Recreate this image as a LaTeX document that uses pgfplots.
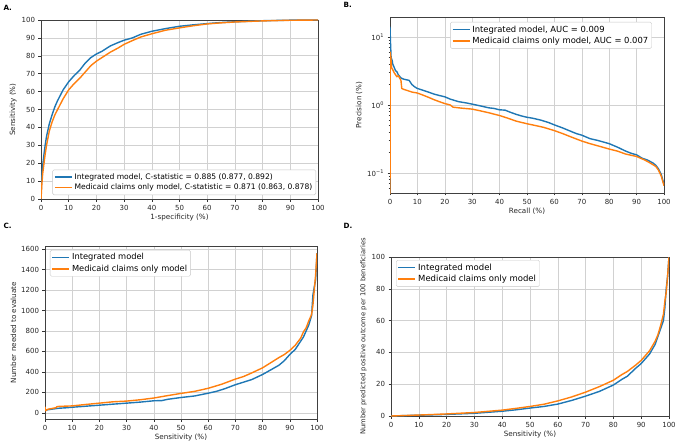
\documentclass[border=0pt]{standalone}
\usepackage{fontspec}
\setmainfont{DejaVu Sans}
\usepackage{pgfplots}
\pgfplotsset{compat=1.18}
\definecolor{mblue}{RGB}{31,119,180}
\definecolor{morange}{RGB}{255,127,14}
\pgfplotsset{
  panel/.style={
    scale only axis,
    grid=major,
    major grid style={black!18, line width=0.6pt},
    axis line style={black!75, line width=0.6pt},
    tick style={black!80, line width=0.5pt},
    tick align=outside, tick pos=left,
    major tick length=2.5pt,
    ticklabel style={font=\fontsize{7}{8}\selectfont, text=black!85},
    label style={font=\fontsize{7.2}{8}\selectfont, text=black!85},
    xlabel style={yshift=3pt},
    ylabel style={yshift=-2pt},
    legend style={draw=black!22, rounded corners=1.5pt,
      fill=white, inner sep=1.5pt, row sep=-0.5pt},
    legend cell align=left,
    /pgf/number format/assume math mode=true,
    /pgf/number format/1000 sep={},
  },
  mbl/.style={color=mblue, line width=1.4pt, line join=round},
  mor/.style={color=morange, line width=1.4pt, line join=round},
}
\begin{document}
\begin{tikzpicture}
\path[use as bounding box] (0pt,0pt) rectangle (677pt,-441pt);
\tikzset{plab/.style={font=\bfseries\fontsize{7.2}{8}\selectfont, anchor=west}}
\node[plab] at (0pt,-8pt) {A.};
\node[plab] at (340pt,-5pt) {B.};
\node[plab] at (0pt,-226pt) {C.};
\node[plab] at (340pt,-226pt) {D.};

% Panel A
\begin{axis}[panel, at={(41pt,-199pt)}, anchor=south west, width=277pt, height=179pt,
  xmin=0, xmax=100, ymin=0, ymax=100, xtick distance=10, ytick distance=10,
  xlabel={1-specificity (\%)}, ylabel={Sensitivity (\%)},
  legend style={at={(0.993,0.022)}, anchor=south east, font=\fontsize{7.6}{8.6}\selectfont}]
\addplot[mbl] coordinates {(0,0) (0.2,10) (0.5,17) (1,24) (1.5,30) (2,35) (3,42) (4,47) (5,51.5) (6,55) (7,58) (8,61) (10,65.5) (12,69) (14,72) (16,76) (18,79) (20,81) (22,82.5) (25,85.5) (28,87.5) (30,88.7) (33,90) (36,92) (40,93.7) (45,95.2) (50,96.5) (55,97.3) (60,98) (65,98.6) (70,99) (75,99.3) (80,99.6) (90,99.9) (100,100)};
\addlegendentry{Integrated model, C-statistic = 0.885 (0.877, 0.892)}
\addplot[mor] coordinates {(0,0) (0.3,8) (0.6,14) (1,19) (1.5,25) (2,30) (3,38) (4,43) (5,47) (6,50) (7,53) (8,56) (10,61) (12,64.5) (14,67.5) (16,71) (18,74.5) (20,77) (22,79) (25,82) (28,84.5) (30,86.4) (33,88.5) (36,90.5) (40,92.3) (45,94.3) (50,95.6) (55,96.8) (60,97.8) (65,98.4) (70,98.9) (75,99.2) (80,99.5) (90,99.85) (100,100)};
\addlegendentry{Medicaid claims only model, C-statistic = 0.871 (0.863, 0.878)}
\end{axis}

% Panel B
\begin{axis}[panel, at={(390pt,-193pt)}, anchor=south west, width=274pt, height=176pt,
  ymode=log, xmin=0, xmax=100, ymin=0.0508, ymax=19.7, xtick distance=10,
  ytick={0.1,1,10}, yticklabels={10\textsuperscript{−1},10\textsuperscript{0},10\textsuperscript{1}},
  minor ytick={0.06,0.07,0.08,0.09,0.2,0.3,0.4,0.5,0.6,0.7,0.8,0.9,2,3,4,5,6,7,8,9},
  minor tick length=1.5pt,
  xlabel={Recall (\%)}, ylabel={Precision (\%)},
  legend style={at={(0.956,0.972)}, anchor=north east, font=\fontsize{8.4}{10.2}\selectfont}]
\addplot[mbl] coordinates {(0,0.01) (0,14) (0.2,8) (0.4,5) (0.8,4.5) (1,4) (1.5,3.6) (2,3.2) (2.5,3.1) (3,2.8) (4,2.5) (5,2.4) (6,2.35) (7,2.3) (8,2.0) (9,1.85) (10,1.75) (12,1.65) (14,1.55) (16,1.45) (18,1.38) (20,1.32) (22,1.22) (25,1.12) (28,1.07) (30,1.03) (33,0.97) (36,0.91) (38,0.89) (40,0.85) (42,0.84) (44,0.78) (46,0.73) (48,0.69) (50,0.66) (52,0.64) (55,0.6) (58,0.55) (60,0.51) (63,0.46) (66,0.41) (68,0.38) (70,0.36) (73,0.32) (76,0.3) (80,0.27) (83,0.24) (86,0.21) (88,0.195) (90,0.185) (92,0.165) (94,0.155) (96,0.14) (97,0.13) (98,0.115) (99,0.095) (99.5,0.08) (100,0.068)};
\addlegendentry{Integrated model, AUC = 0.009}
\addplot[mor] coordinates {(0,0.01) (0.05,6) (0.3,5) (0.6,3.5) (1,3.3) (1.5,3.0) (2,2.8) (2.5,2.6) (3,2.7) (3.5,2.5) (4,2.3) (4.3,1.75) (5,1.7) (6,1.65) (8,1.55) (10,1.5) (12,1.4) (14,1.3) (16,1.2) (18,1.12) (20,1.05) (22,1.0) (23,0.93) (26,0.9) (30,0.87) (33,0.82) (36,0.77) (40,0.7) (43,0.64) (46,0.58) (50,0.53) (53,0.5) (56,0.47) (60,0.42) (63,0.38) (66,0.34) (70,0.295) (73,0.27) (76,0.25) (80,0.225) (83,0.21) (86,0.19) (90,0.175) (93,0.155) (95,0.14) (97,0.125) (98,0.11) (99,0.09) (100,0.065)};
\addlegendentry{Medicaid claims only model, AUC = 0.007}
\end{axis}

% Panel C
\begin{axis}[panel, at={(45pt,-419pt)}, anchor=south west, width=272pt, height=173pt,
  xmin=0, xmax=100, ymin=-60, ymax=1630, xtick distance=10, ytick distance=200,
  xlabel={Sensitivity (\%)}, ylabel={Number needed to evaluate},
  legend style={at={(0.018,0.977)}, anchor=north west, font=\fontsize{8.3}{10.5}\selectfont}]
\addplot[mbl] coordinates {(0,25) (1,30) (3,38) (5,45) (8,50) (10,55) (15,65) (20,75) (25,85) (30,95) (35,105) (40,118) (43,120) (45,132) (50,150) (55,165) (60,192) (63,210) (66,235) (70,275) (73,300) (76,325) (80,375) (83,420) (86,465) (88,510) (90,570) (92,620) (94,700) (95,740) (96,800) (97,860) (98,950) (98.5,1150) (99,1230) (99.5,1300) (100,1560)};
\addlegendentry{Integrated model}
\addplot[mor] coordinates {(0,60) (0.2,20) (1,35) (3,45) (4,50) (4.5,62) (7,65) (10,68) (15,82) (20,95) (25,108) (30,115) (35,128) (40,145) (45,168) (50,190) (55,210) (60,240) (65,280) (70,330) (73,355) (76,390) (80,440) (83,490) (86,540) (88,570) (90,610) (92,660) (94,730) (95,790) (96,830) (97,900) (98,960) (98.5,1050) (99,1200) (99.5,1350) (100,1560)};
\addlegendentry{Medicaid claims only model}
\end{axis}

% Panel D
\begin{axis}[panel, at={(391pt,-416pt)}, anchor=south west, width=278pt, height=159pt,
  xmin=0, xmax=100, ymin=0, ymax=100, xtick distance=10, ytick distance=20,
  xlabel={Sensitivity (\%)}, ylabel={Number predicted positive outcome per 100 beneficiaries},
  ylabel style={font=\fontsize{6.8}{8}\selectfont},
  legend style={at={(0.018,0.981)}, anchor=north west, font=\fontsize{8.5}{10}\selectfont}]
\addplot[mbl] coordinates {(0,0) (10,0.5) (20,1) (30,1.7) (40,3) (45,3.9) (50,5) (55,6) (60,7.5) (65,9.8) (70,12.5) (75,15.5) (80,19.5) (83,23) (85,25) (88,30) (90,33) (92,37) (93,39) (95,45) (96,50) (97,55) (98,60) (98.5,68) (99,80) (99.5,88) (100,100)};
\addlegendentry{Integrated model}
\addplot[mor] coordinates {(0,0) (10,0.6) (20,1.3) (30,2.2) (40,3.7) (45,4.8) (50,6) (55,7.4) (60,9.5) (65,12) (70,15) (75,18.5) (80,22.5) (83,26) (85,28) (88,32) (90,35) (92,39) (93,41) (95,47) (96,51) (97,57) (98,64) (98.5,72) (99,78) (99.5,88) (100,100)};
\addlegendentry{Medicaid claims only model}
\end{axis}
\end{tikzpicture}
\end{document}
